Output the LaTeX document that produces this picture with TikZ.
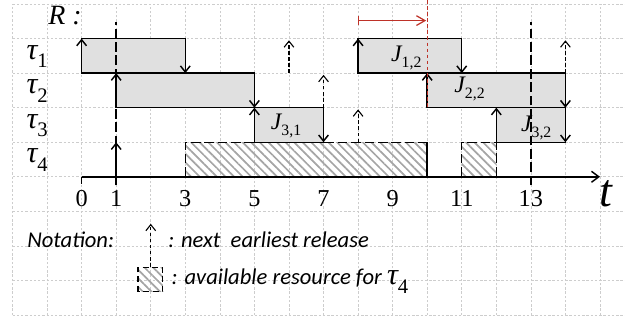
\documentclass[tikz,border=0pt]{standalone}
\usepackage{fontspec}
\setmainfont{Liberation Serif}[ItalicFont={Liberation Serif Italic}]
\newfontfamily\notefont{Carlito}
\usetikzlibrary{arrows.meta,patterns.meta}
\definecolor{boxgray}{RGB}{224,224,224}
\definecolor{darkred}{RGB}{190,50,40}
\definecolor{gridgray}{RGB}{205,205,205}
\definecolor{hatchgray}{RGB}{165,165,165}
\newcommand{\taulab}[1]{{\rmfamily\fontsize{25}{27}\selectfont\itshape τ}\raisebox{-7pt}{\rmfamily\upshape\fontsize{17}{19}\selectfont #1}}
\newcommand{\joblab}[1]{{\rmfamily\fontsize{19.5}{21}\selectfont\itshape J}\raisebox{-4.5pt}{\rmfamily\upshape\fontsize{13}{15}\selectfont #1}}
\tikzset{
  gridline/.style={draw=gridgray, line width=0.5pt, dash pattern=on 2pt off 1.5pt},
  jobbox/.style={draw=black, fill=boxgray, line width=1.2pt},
  barb/.style={-{Straight Barb[length=5pt,width=8pt]}},
  relarrow/.style={barb, line width=1.2pt},
  nextrel/.style={barb, line width=0.9pt, dash pattern=on 3pt off 2pt},
  longdash/.style={line width=1.2pt, dash pattern=on 8pt off 3pt},
  hatch/.style={pattern={Lines[angle=-45,distance=5pt,line width=1.4pt]}, pattern color=hatchgray},
  ticklab/.style={font=\rmfamily\fontsize{20}{22}\selectfont, anchor=base, inner sep=0pt},
  notetext/.style={font=\notefont\itshape\fontsize{18.6}{20}\selectfont, anchor=base west, inner sep=0pt},
  lab/.style={inner sep=0pt, anchor=base west}
}
\begin{document}
\begin{tikzpicture}
\useasboundingbox (-2.362,-4.159) rectangle (15.724,5.116);
% grid
\foreach \x in {-2,...,15} \draw[gridline] (\x,-4) -- (\x,5);
\foreach \y in {-4,...,5} \draw[gridline] (-2,\y) -- (15.724,\y);
% hatched resource for tau4
\fill[hatch] (3,0) rectangle (10,1);
\fill[hatch] (11,0) rectangle (12,1);
\draw[longdash] (3,0) -- (3,1) -- (10,1);
\draw[line width=1.2pt] (10,1) -- (10,0);
\draw[longdash] (11,0) -- (11,1) -- (12,1) -- (12,0);
% job boxes
\draw[jobbox] (0,3) rectangle (3,4);
\draw[jobbox] (8,3) rectangle (11,4);
\draw[jobbox] (1,2) rectangle (5,3);
\draw[jobbox] (10,2) rectangle (14,3);
\draw[jobbox] (5,1) rectangle (7,2);
\draw[jobbox] (12,1) rectangle (14,2);
% axis
\coordinate (o) at (0,0);
\coordinate (tend) at (15,0);
\draw[line width=1.2pt, -{Straight Barb[length=6pt,width=9pt]}] (o) -- (tend);
\draw[line width=1.2pt] (o) -- (0,-0.2);
% dashed vertical lines at 1 and 13
\draw[longdash] (1,-0.25) -- (1,4.48);
\draw[longdash] (13,-0.25) -- (13,4.48);
% release arrows
\foreach \x/\y in {0/3, 8/3, 1/2, 10/2, 5/1, 12/1, 1/0}
  \draw[relarrow] (\x,\y) -- (\x,\y+1);
% finish arrows
\foreach \x/\y in {3/4, 11/4, 5/3, 14/3, 7/2, 14/2}
  \draw[relarrow] (\x,\y) -- (\x,\y-1);
% next earliest release
\foreach \x/\y in {6/3, 7/2, 8/1, 14/3}
  \draw[nextrel] (\x,\y) -- (\x,\y+0.95);
% red marks
\draw[darkred, line width=0.9pt, dash pattern=on 3pt off 2pt] (10,5.116) -- (10,2);
\draw[darkred, line width=1pt, {Bar[width=7pt]}-{Straight Barb[length=7pt,width=8pt]}] (8,4.52) -- (9.97,4.52);
% labels
\node[lab] (R) at (-0.97,4.40) {\fontsize{23}{25}\selectfont\itshape R\ :};
\node[lab] (t1) at (-1.6,3.40) {\taulab{1}};
\node[lab] (t2) at (-1.6,2.40) {\taulab{2}};
\node[lab] (t3) at (-1.6,1.40) {\taulab{3}};
\node[lab] (t4) at (-1.6,0.40) {\taulab{4}};
\node[lab] (J12) at (8.95,3.33) {\joblab{1,2}};
\node[lab] (J22) at (10.78,2.43) {\joblab{2,2}};
\node[lab] (J31) at (5.47,1.36) {\joblab{3,1}};
\node[lab] (J32) at (12.71,1.30) {\joblab{3,2}};
\foreach \v in {0,1,3,5,7,9,11,13}
  \node[ticklab] (n\v) at (\v,-0.87) {\v};
\node[lab, anchor=base] (tl) at (15.18,-0.87) {\fontsize{38}{40}\selectfont\itshape t};
% notation
\node[notetext] (nt) at (-1.58,-2.05) {Notation:};
\coordinate (na) at (2,-2.6);
\coordinate (nb) at (2,-1.36);
\draw[nextrel] (na) -- (nb);
\node[notetext] (nr) at (2.5,-2.05) {: next\ \ earliest release};
\fill[hatch] (1.63,-3.33) rectangle (2.35,-2.62);
\draw[line width=1pt, dash pattern=on 5pt off 3pt] (1.63,-3.33) rectangle (2.35,-2.62);
\node[notetext] (na2) at (2.6,-3.13) {: available resource for \taulab{4}};
\end{tikzpicture}
\end{document}
